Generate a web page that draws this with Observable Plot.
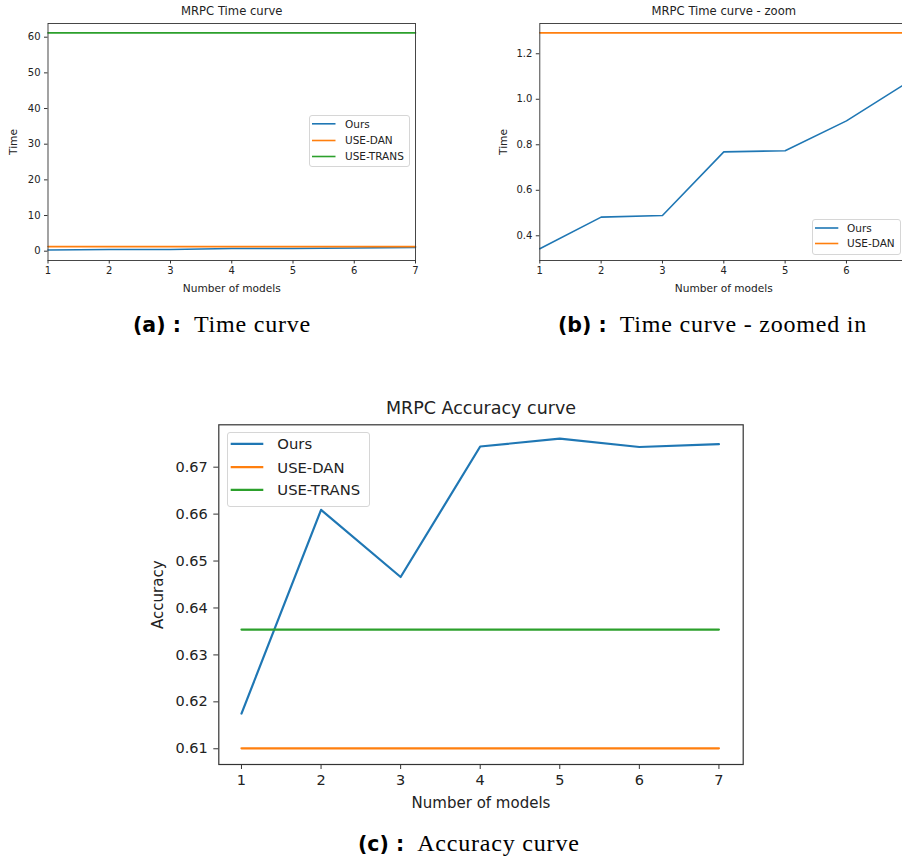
<!DOCTYPE html>
<html><head><meta charset="utf-8">
<script src="https://cdn.jsdelivr.net/npm/d3@7"></script>
<script src="https://cdn.jsdelivr.net/npm/@observablehq/plot@0.6"></script>
<style>
html,body{margin:0;padding:0;width:902px;height:860px;overflow:hidden;background:#fff;}
#root{position:relative;width:902px;height:860px;overflow:hidden;background:#fff;}
.panel{position:absolute;}
.lgbox{position:absolute;background:rgba(255,255,255,0.85);border:1px solid #d6d6d6;border-radius:3px;box-sizing:border-box;}
.lgsvg{position:absolute;left:0;top:0;overflow:visible;pointer-events:none;}
.lgtext{position:absolute;white-space:nowrap;font-family:"DejaVu Sans";color:#222;}
.cap{position:absolute;white-space:nowrap;color:#000;line-height:24px;}
.cap b{font-family:"DejaVu Sans";font-weight:bold;font-size:20.5px;line-height:24px;}
.cap span{font-family:"Liberation Serif";font-size:24px;letter-spacing:0.8px;line-height:24px;}
</style></head><body><div id="root"></div>
<script>
// ---- data ----
const models = [1, 2, 3, 4, 5, 6, 7];
const oursTime = [0.343, 0.482, 0.489, 0.769, 0.774, 0.905, 1.075];
const danTime = [1.292, 1.292, 1.292, 1.292, 1.292, 1.292, 1.292];
const transTime = [61.2, 61.2, 61.2, 61.2, 61.2, 61.2, 61.2];
const oursAcc = [0.6175, 0.6609, 0.6466, 0.6744, 0.6761, 0.6743, 0.6749];
const danAcc = [0.6101, 0.6101, 0.6101, 0.6101, 0.6101, 0.6101, 0.6101];
const transAcc = [0.6354, 0.6354, 0.6354, 0.6354, 0.6354, 0.6354, 0.6354];
const seriesNames = ["Ours", "USE-DAN", "USE-TRANS"];
const seriesColors = ["#1f77b4", "#ff7f0e", "#2ca02c"];
const timeTicks = [0, 10, 20, 30, 40, 50, 60];
const zoomTicks = [0.4, 0.6, 0.8, 1.0, 1.2];
const accTicks = [0.61, 0.62, 0.63, 0.64, 0.65, 0.66, 0.67];
const zoomXTicks = [1, 2, 3, 4, 5, 6]; // tick 7 lies outside the visible page in panel (b)
const titles = ["MRPC Time curve", "MRPC Time curve - zoom", "MRPC Accuracy curve"];
const xLabel = "Number of models";
const yLabels = ["Time", "Time", "Accuracy"];

const timeTable = models.map((m, i) => ({m, ours: oursTime[i], dan: danTime[i], trans: transTime[i]}));
const accTable = models.map((m, i) => ({m, ours: oursAcc[i], dan: danAcc[i], trans: transAcc[i]}));

const root = document.getElementById("root");
const FONT = "DejaVu Sans";
const SVGNS = "http://www.w3.org/2000/svg";

// overlay svg for legend swatches
const lgsvg = document.createElementNS(SVGNS, "svg");
lgsvg.setAttribute("class", "lgsvg");
lgsvg.setAttribute("width", 902);
lgsvg.setAttribute("height", 860);

function place(el, left, top, width) {
  const d = document.createElement("div");
  d.className = "panel";
  d.style.left = left + "px";
  d.style.top = top + "px";
  d.style.width = width + "px";
  d.appendChild(el);
  root.appendChild(d);
}

function makeChart(o) {
  const marks = [];
  o.series.forEach(s => {
    marks.push(Plot.line(o.table, {x: "m", y: s.key, stroke: s.color, strokeWidth: o.lw}));
  });
  marks.push(Plot.frame({stroke: "#333", strokeWidth: o.fw}));
  marks.push(Plot.axisX(o.xTicks, {tickSize: o.tickSize, tickPadding: o.padX, fontSize: o.tickFont, label: null, stroke: "#333", fill: "#222"}));
  marks.push(Plot.axisY(o.yTicks, {tickSize: o.tickSize, tickPadding: o.padY, fontSize: o.tickFont, tickFormat: o.fmt, label: null, stroke: "#333", fill: "#222"}));
  marks.push(Plot.text([o.title], {text: d => d, frameAnchor: "top", dy: o.titleDy, fontSize: o.titleFont, textAnchor: "middle", lineAnchor: "middle", fill: "#222"}));
  marks.push(Plot.text([xLabel], {text: d => d, frameAnchor: "bottom", dy: o.xlabDy, fontSize: o.labFont, textAnchor: "middle", lineAnchor: "middle", fill: "#222"}));
  marks.push(Plot.text([o.ylab], {text: d => d, frameAnchor: "left", dx: o.ylabDx, rotate: -90, fontSize: o.labFont, textAnchor: "middle", lineAnchor: "middle", fill: "#222"}));
  return Plot.plot({
    width: o.width, height: o.height,
    marginLeft: o.ml, marginRight: o.mr, marginTop: o.mt, marginBottom: o.mb,
    x: {domain: o.xDomain, axis: null},
    y: {domain: o.yDomain, axis: null},
    style: {fontFamily: FONT, background: "transparent", maxWidth: "none", overflow: "visible", color: "#222"},
    marks
  });
}

function legend(o) {
  const box = document.createElement("div");
  box.className = "lgbox";
  Object.assign(box.style, {left: o.x0 + "px", top: o.y0 + "px", width: (o.x1 - o.x0) + "px", height: (o.y1 - o.y0) + "px"});
  root.appendChild(box);
  o.items.forEach((it, i) => {
    const y = o.rows[i];
    const ln = document.createElementNS(SVGNS, "line");
    ln.setAttribute("x1", o.lx0);
    ln.setAttribute("x2", o.lx1);
    ln.setAttribute("y1", y);
    ln.setAttribute("y2", y);
    ln.setAttribute("stroke", seriesColors[it]);
    ln.setAttribute("stroke-width", o.lw);
    lgsvg.appendChild(ln);
    const t = document.createElement("div");
    t.className = "lgtext";
    t.textContent = seriesNames[it];
    Object.assign(t.style, {left: o.tx + "px", top: (y - 0.58 * o.fs) + "px", fontSize: o.fs + "px", lineHeight: (1.2 * o.fs) + "px"});
    root.appendChild(t);
  });
}

function caption(left, baseline, label, text) {
  const d = document.createElement("div");
  d.className = "cap";
  d.style.left = left + "px";
  d.style.top = (baseline - 20.5) + "px";
  const b = document.createElement("b");
  b.textContent = label;
  const s = document.createElement("span");
  s.textContent = text;
  s.style.marginLeft = "13px";
  d.appendChild(b);
  d.appendChild(s);
  root.appendChild(d);
}

// (a) Time curve
place(makeChart({
  table: timeTable,
  series: [{key: "ours", color: seriesColors[0]}, {key: "dan", color: seriesColors[1]}, {key: "trans", color: seriesColors[2]}],
  width: 440, height: 300, ml: 47.5, mr: 25, mt: 23, mb: 40,
  xDomain: [1, 7], xTicks: models, yDomain: [-2.61, 63.84], yTicks: timeTicks, fmt: d3.format("d"),
  lw: 1.6, fw: 0.9, tickSize: 3.5, padX: 3, padY: 4, tickFont: 10,
  title: titles[0], titleDy: -12, titleFont: 11.6,
  xlabDy: 28.3, ylab: yLabels[0], ylabDx: -34, labFont: 10.6
}), 0, 0, 440);

// (b) Time curve - zoom
place(makeChart({
  table: timeTable,
  series: [{key: "ours", color: seriesColors[0]}, {key: "dan", color: seriesColors[1]}],
  width: 440, height: 300, ml: 49.3, mr: 22.7, mt: 23, mb: 40,
  xDomain: [1, 7], xTicks: zoomXTicks, yDomain: [0.2914, 1.333], yTicks: zoomTicks, fmt: d3.format(".1f"),
  lw: 1.6, fw: 0.9, tickSize: 3.5, padX: 3, padY: 4, tickFont: 10,
  title: titles[1], titleDy: -12, titleFont: 11.6,
  xlabDy: 28.3, ylab: yLabels[1], ylabDx: -36, labFont: 10.6
}), 490, 0, 440);

// (c) Accuracy curve
place(makeChart({
  table: accTable,
  series: [{key: "ours", color: seriesColors[0]}, {key: "dan", color: seriesColors[1]}, {key: "trans", color: seriesColors[2]}],
  width: 630, height: 440, ml: 88.3, mr: 17.3, mt: 34.3, mb: 66,
  xDomain: [0.715, 7.305], xTicks: models, yDomain: [0.60665, 0.67903], yTicks: accTicks, fmt: d3.format(".2f"),
  lw: 2.2, fw: 1.2, tickSize: 5, padX: 5, padY: 6, tickFont: 14.5,
  title: titles[2], titleDy: -16.5, titleFont: 17.5,
  xlabDy: 38.7, ylab: yLabels[2], ylabDx: -61, labFont: 15
}), 130, 390, 630);

// legends
legend({x0: 308.5, y0: 115, x1: 409.5, y1: 167, rows: [123.8, 140.5, 156.5], items: [0, 1, 2], lx0: 312, lx1: 335.5, tx: 345, fs: 10.5, lw: 1.6});
legend({x0: 812, y0: 219.3, x1: 901, y1: 255, rows: [228, 243.5], items: [0, 1], lx0: 815, lx1: 838.3, tx: 847, fs: 10.5, lw: 1.6});
legend({x0: 226.7, y0: 432.3, x1: 370, y1: 507.3, rows: [443.8, 467.2, 489.8], items: [0, 1, 2], lx0: 230.7, lx1: 263.3, tx: 277.3, fs: 14.8, lw: 2.2});
root.appendChild(lgsvg);

// captions
caption(133, 332, "(a) :", "Time curve");
caption(558, 332, "(b) :", "Time curve - zoomed in");
caption(358, 851, "(c) :", "Accuracy curve");
</script></body></html>
